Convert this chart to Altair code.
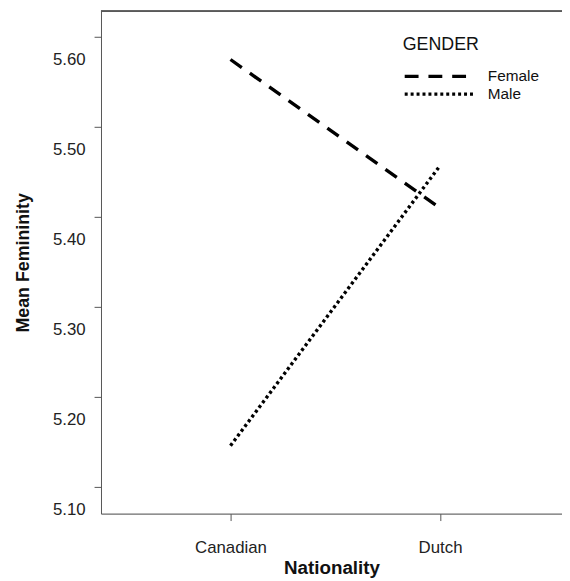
import altair as alt
import pandas as pd

nationality = ["Canadian", "Dutch"]
gender = ["Female", "Male"]
female_means = [5.60, 5.435]
male_means = [5.171, 5.482]
y_ticks = [5.10, 5.20, 5.30, 5.40, 5.50, 5.60]
legend_title = "GENDER"

rows = []
for n, f, m in zip(nationality, female_means, male_means):
    rows.append({"Nationality": n, "GENDER": "Female", "Mean": f})
    rows.append({"Nationality": n, "GENDER": "Male", "Mean": m})
df = pd.DataFrame(rows)
legend_df = pd.DataFrame({"GENDER": gender, "row": list(range(len(gender)))})

FONT = "Liberation Sans"
dash_scale = alt.Scale(domain=gender, range=[[14, 10], [3, 3]])

lines = alt.Chart(df).mark_line(color="black", strokeWidth=3.4, strokeCap="butt").encode(
    x=alt.X("Nationality:N", sort=nationality,
            scale=alt.Scale(type="point", padding=0.6, align=0.515),
            axis=alt.Axis(title="Nationality", labelAngle=0, tickSize=7,
                          labelPadding=19, labelFontSize=17, titleFontSize=19,
                          titleFontWeight="bold", titlePadding=4,
                          domainColor="#555", tickColor="#555",
                          labelColor="#222", titleColor="#111",
                          labelFont=FONT, titleFont=FONT, grid=False)),
    y=alt.Y("Mean:Q",
            scale=alt.Scale(domain=[5.0956, 5.6538], nice=False, zero=False),
            axis=alt.Axis(title="Mean Femininity", values=y_ticks, format=".2f",
                          tickSize=7, tickOffset=-23, labelOffset=23,
                          labelPadding=9, labelFontSize=17, titleFontSize=18,
                          titleFontWeight="bold", titleX=-69,
                          domainColor="#555", tickColor="#555",
                          labelColor="#222", titleColor="#111",
                          labelFont=FONT, titleFont=FONT, grid=False)),
    strokeDash=alt.StrokeDash("GENDER:N", sort=gender, scale=dash_scale, legend=None),
)

top = alt.Chart(df).mark_rule(color="#555", strokeWidth=1).encode(
    x=alt.value(0), x2=alt.value(466), y=alt.value(0)
)

# manual legend (keys, labels, title)
leg_base = alt.Chart(legend_df).transform_calculate(ly="66 + 18 * datum.row")
leg_keys = leg_base.mark_rule(color="black", strokeWidth=3.4, strokeCap="butt").encode(
    x=alt.value(307), x2=alt.value(376),
    y=alt.Y("ly:Q", scale=None),
    strokeDash=alt.StrokeDash("GENDER:N", sort=gender, scale=dash_scale, legend=None),
)
leg_labels = leg_base.mark_text(align="left", baseline="middle", fontSize=15.5,
                                font=FONT, color="#111").encode(
    x=alt.value(391), y=alt.Y("ly:Q", scale=None), text="GENDER:N"
)
leg_title = alt.Chart(pd.DataFrame({"t": [legend_title]})).mark_text(
    align="left", baseline="middle", fontSize=18, font=FONT, color="#111"
).encode(x=alt.value(305), y=alt.value(34), text="t:N")

chart = alt.layer(lines, top, leg_keys, leg_labels, leg_title).properties(
    width=466, height=508,
    autosize=alt.AutoSizeParams(type="none"),
    padding={"left": 94, "top": 0, "right": 0, "bottom": 64},
).configure_view(stroke=None).configure(background="white")

chart.save("out.html", embed_options={"renderer": "svg", "actions": False})
